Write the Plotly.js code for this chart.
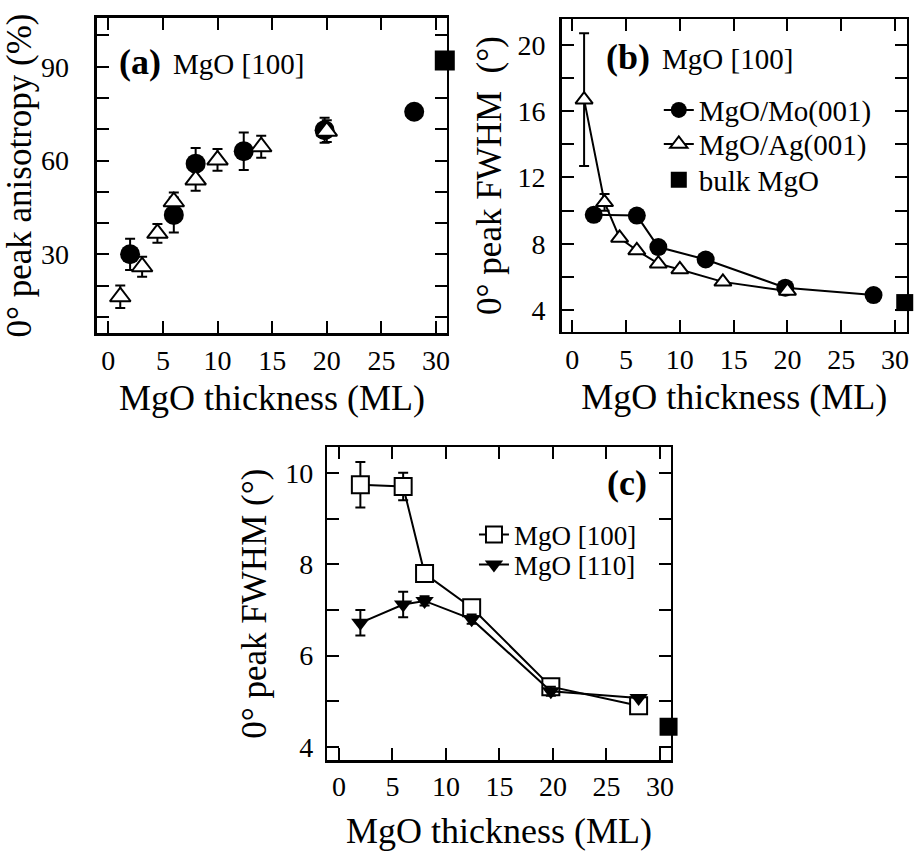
<!DOCTYPE html>
<html>
<head>
<meta charset="utf-8">
<script src="https://cdn.plot.ly/plotly-3.0.1.min.js"></script>
<style>
html,body{margin:0;padding:0;background:#fff;}
#chart{width:915px;height:853px;}
</style>
</head>
<body>
<div id="chart"></div>
<script>
// ---------- Panel (a): 0° peak anisotropy (%) ----------
const aMoX   = [2, 6, 8, 12.4, 19.8, 28];
const aMoY   = [30, 42.6, 59, 63, 69.7, 75.6];
const aMoErr = [5, 5.6, 5, 6, 4, 0];
const aAgX   = [1.1, 3.1, 4.5, 6, 8, 10, 14, 20];
const aAgY   = [16.4, 26, 36.7, 46.8, 53.8, 60.2, 64.4, 69.4];
const aAgErr = [3.6, 3.2, 3, 3, 3.5, 3.5, 3.5, 3.5];
const aBulkX = [30.8];
const aBulkY = [92];

// ---------- Panel (b): 0° peak FWHM (°), MgO [100] ----------
const bMoX   = [2, 6, 8, 12.4, 19.8, 28];
const bMoY   = [9.75, 9.7, 7.8, 7.05, 5.35, 4.9];
const bAgX   = [1.1, 3, 4.4, 6, 8, 10, 14, 20];
const bAgY   = [16.7, 10.5, 8.35, 7.6, 6.8, 6.45, 5.7, 5.15];
const bAgErr = [4, 0.5, 0, 0, 0, 0, 0, 0];
const bBulkX = [30.9];
const bBulkY = [4.45];

// ---------- Panel (c): 0° peak FWHM (°), [100] vs [110] ----------
const cX      = [2, 6, 8, 12.4, 19.8, 28];
const c100Y   = [9.75, 9.71, 7.8, 7.05, 5.32, 4.9];
const c100Err = [0.5, 0.3, 0, 0, 0, 0];
const c110Y   = [6.72, 7.12, 7.2, 6.8, 5.22, 5.07];
const c110Err = [0.28, 0.28, 0.1, 0.1, 0.1, 0];
const cBulkX  = [30.8];
const cBulkY  = [4.44];

const xTitle = 'MgO thickness (ML)';
const names = {mo: 'MgO/Mo(001)', ag: 'MgO/Ag(001)', bulk: 'bulk MgO', d100: 'MgO [100]', d110: 'MgO [110]'};

const FONT = 'Liberation Serif, Times New Roman, DejaVu Serif, serif';
const BLACK = '#000000';
const TICK = 28;

function err(arr) {
  return {type: 'data', array: arr, visible: true, color: BLACK, thickness: 2, width: 5};
}

const traces = [
  // (a)
  {x: aMoX, y: aMoY, error_y: err(aMoErr), mode: 'markers', type: 'scatter', xaxis: 'x', yaxis: 'y',
   marker: {symbol: 'circle', size: 20, color: BLACK}, showlegend: false, name: names.mo},
  {x: aAgX, y: aAgY, error_y: err(aAgErr), mode: 'markers', type: 'scatter', xaxis: 'x', yaxis: 'y',
   marker: {symbol: 'triangle-up', size: 18, color: '#ffffff', line: {color: BLACK, width: 2}}, showlegend: false, name: names.ag},
  {x: aBulkX, y: aBulkY, mode: 'markers', type: 'scatter', xaxis: 'x', yaxis: 'y', cliponaxis: false,
   marker: {symbol: 'square', size: 20, color: BLACK}, showlegend: false, name: names.bulk},
  // (b)
  {x: bMoX, y: bMoY, mode: 'lines+markers', type: 'scatter', xaxis: 'x2', yaxis: 'y2',
   line: {color: BLACK, width: 2}, marker: {symbol: 'circle', size: 18, color: BLACK}, name: names.mo, legend: 'legend'},
  {x: bAgX, y: bAgY, error_y: err(bAgErr), mode: 'lines+markers', type: 'scatter', xaxis: 'x2', yaxis: 'y2',
   line: {color: BLACK, width: 2}, marker: {symbol: 'triangle-up', size: 15, color: '#ffffff', line: {color: BLACK, width: 2}}, name: names.ag, legend: 'legend3'},
  {x: bBulkX, y: bBulkY, mode: 'markers', type: 'scatter', xaxis: 'x2', yaxis: 'y2', cliponaxis: false,
   marker: {symbol: 'square', size: 17, color: BLACK}, name: names.bulk, legend: 'legend4'},
  // (c)
  {x: cX, y: c100Y, error_y: err(c100Err), mode: 'lines+markers', type: 'scatter', xaxis: 'x3', yaxis: 'y3',
   line: {color: BLACK, width: 2}, marker: {symbol: 'square', size: 17, color: '#ffffff', line: {color: BLACK, width: 2}}, name: names.d100, legend: 'legend2'},
  {x: cX, y: c110Y, error_y: err(c110Err), mode: 'lines+markers', type: 'scatter', xaxis: 'x3', yaxis: 'y3',
   line: {color: BLACK, width: 2}, marker: {symbol: 'triangle-down', size: 16, color: BLACK}, name: names.d110, legend: 'legend5'},
  {x: cBulkX, y: cBulkY, mode: 'markers', type: 'scatter', xaxis: 'x3', yaxis: 'y3', cliponaxis: false,
   marker: {symbol: 'square', size: 18, color: BLACK}, showlegend: false, name: names.bulk}
];

function xAxis(domain, range, anchor, standoffLabels, titleStandoff) {
  return {
    domain: domain, range: range, anchor: anchor,
    tick0: 0, dtick: 5, ticks: 'inside', ticklen: 12, tickwidth: 2, tickcolor: BLACK,
    showline: true, linewidth: 2.5, linecolor: BLACK, mirror: 'ticks',
    showgrid: false, zeroline: false,
    tickfont: {family: FONT, size: TICK, color: BLACK},
    ticklabelstandoff: standoffLabels,
    title: {text: xTitle, font: {family: FONT, size: 36, color: BLACK}, standoff: titleStandoff}
  };
}
function yAxis(domain, range, anchor, dtick, minorDtick, titleText, standoffLabels, titleStandoff) {
  return {
    domain: domain, range: range, anchor: anchor,
    tick0: 0, dtick: dtick, ticks: 'inside', ticklen: 12, tickwidth: 2, tickcolor: BLACK,
    minor: {tick0: 0, dtick: minorDtick, ticks: 'inside', ticklen: 12, tickwidth: 2, tickcolor: BLACK, showgrid: false},
    showline: true, linewidth: 2.5, linecolor: BLACK, mirror: 'ticks',
    showgrid: false, zeroline: false,
    tickfont: {family: FONT, size: TICK, color: BLACK},
    ticklabelstandoff: standoffLabels,
    title: {text: titleText, font: {family: FONT, size: 35, color: BLACK}, standoff: titleStandoff}
  };
}

function leg(x, y, size) {
  return {x: x, y: y, xanchor: 'left', yanchor: 'middle', bgcolor: 'rgba(0,0,0,0)',
          font: {family: FONT, size: size, color: BLACK}, borderwidth: 0};
}

const layout = {
  width: 915, height: 853,
  margin: {l: 0, r: 0, t: 0, b: 0},
  paper_bgcolor: '#ffffff', plot_bgcolor: '#ffffff',
  font: {family: FONT, color: BLACK},
  xaxis:  xAxis([0.106, 0.4885], [-1.03, 31.0], 'y', 1, 10),
  yaxis:  yAxis([0.6096, 0.9789], [4.8, 105.6], 'x', 30, 10, '0° peak anisotropy (%)', 20, 0),
  xaxis2: xAxis([0.6139, 0.9909], [-0.98, 31.08], 'y2', 1, 10),
  yaxis2: yAxis([0.6111, 0.9774], [2.69, 21.55], 'x2', 4, 2, '0° peak FWHM  (°)', 8, 6),
  xaxis3: xAxis([0.3577, 0.7330], [-1.09, 31.0], 'y3', 0, 17),
  yaxis3: yAxis([0.1090, 0.4756], [3.71, 10.57], 'x3', 2, 1, '0° peak FWHM (°)', 6, 8),
  legend:  leg(0.720, 0.871, 29),
  legend3: leg(0.720, 0.831, 29),
  legend4: leg(0.720, 0.789, 29),
  legend2: leg(0.518, 0.3728, 27),
  legend5: leg(0.518, 0.3376, 27),
  annotations: [
    {text: '<b>(a)</b>', xref: 'paper', yref: 'paper', x: 0.128, y: 0.927, xanchor: 'left', yanchor: 'middle', showarrow: false,
     font: {family: FONT, size: 36, color: BLACK}},
    {text: 'MgO [100]', xref: 'paper', yref: 'paper', x: 0.187, y: 0.925, xanchor: 'left', yanchor: 'middle', showarrow: false,
     font: {family: FONT, size: 29, color: BLACK}},
    {text: '<b>(b)</b>', xref: 'paper', yref: 'paper', x: 0.660, y: 0.933, xanchor: 'left', yanchor: 'middle', showarrow: false,
     font: {family: FONT, size: 36, color: BLACK}},
    {text: 'MgO [100]', xref: 'paper', yref: 'paper', x: 0.721, y: 0.931, xanchor: 'left', yanchor: 'middle', showarrow: false,
     font: {family: FONT, size: 29, color: BLACK}},
    {text: '<b>(c)</b>', xref: 'paper', yref: 'paper', x: 0.661, y: 0.434, xanchor: 'left', yanchor: 'middle', showarrow: false,
     font: {family: FONT, size: 36, color: BLACK}}
  ]
};

Plotly.newPlot('chart', traces, layout, {displayModeBar: false, staticPlot: true});
</script>
</body>
</html>
